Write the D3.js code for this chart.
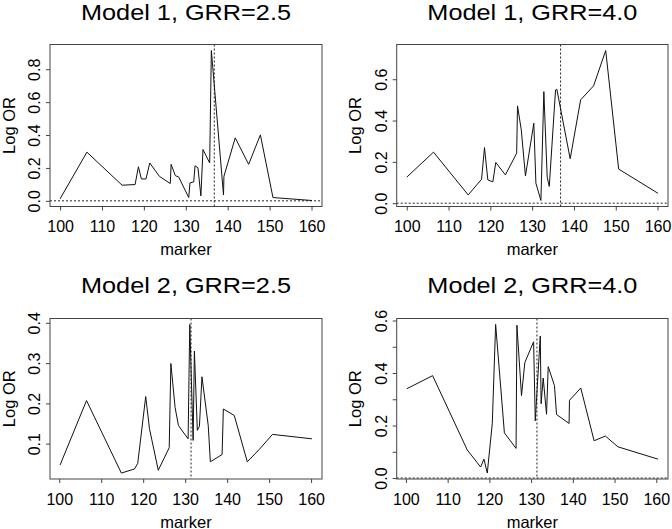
<!DOCTYPE html>
<html>
<head>
<meta charset="utf-8">
<script src="https://cdn.jsdelivr.net/npm/d3@7"></script>
<style>
  html, body { margin: 0; padding: 0; background: #fff; }
  svg { display: block; font-family: "Liberation Sans", Arial, Helvetica, sans-serif; }
</style>
</head>
<body>
<svg id="chart" width="672" height="529"></svg>
<script>
// ---------- data ----------
const titles = ["Model 1, GRR=2.5", "Model 1, GRR=4.0", "Model 2, GRR=2.5", "Model 2, GRR=4.0"];
const xLabel = "marker";
const yLabel = "Log OR";
const xTicks = [100, 110, 120, 130, 140, 150, 160];

const markers1 = [100.0, 106.4, 114.8, 117.9, 118.7, 119.4, 120.5, 121.4, 123.7, 126.3, 126.5, 127.5, 128.3,
  130.7, 131.0, 131.9, 132.2, 132.9, 133.6, 134.1, 135.7, 136.1, 139.0, 139.1, 141.8, 145.0, 147.8, 150.8, 160.1];
const logOR1 = [0.012, 0.296, 0.095, 0.099, 0.207, 0.133, 0.133, 0.230, 0.149, 0.105, 0.222, 0.153, 0.145,
  0.020, 0.109, 0.115, 0.213, 0.201, 0.030, 0.312, 0.230, 0.914, 0.036, 0.149, 0.383, 0.222, 0.401, 0.020, 0.002];

const markers2 = [100.0, 106.4, 114.7, 117.9, 118.6, 119.4, 120.6, 121.3, 123.6, 126.3, 126.5, 127.4, 128.4,
  130.4, 130.9, 132.1, 132.8, 133.6, 134.1, 135.6, 135.9, 139.1, 141.6, 144.7, 147.6, 150.7, 160.1];
const logOR2 = [0.126, 0.247, 0.040, 0.116, 0.269, 0.113, 0.103, 0.197, 0.137, 0.242, 0.471, 0.355, 0.132,
  0.387, 0.097, 0.013, 0.540, 0.126, 0.081, 0.548, 0.552, 0.215, 0.500, 0.568, 0.739, 0.165, 0.048];

const markers3 = [100.2, 106.5, 114.8, 117.9, 118.7, 120.6, 121.5, 123.6, 126.2, 126.6, 127.6, 128.4, 130.7,
  131.1, 131.9, 132.2, 132.9, 133.4, 134.0, 135.5, 136.0, 138.8, 139.1, 141.7, 144.8, 147.6, 150.8, 160.2];
const logOR3 = [0.047, 0.207, 0.027, 0.037, 0.051, 0.217, 0.137, 0.034, 0.090, 0.299, 0.190, 0.145, 0.112,
  0.396, 0.108, 0.330, 0.133, 0.143, 0.266, 0.145, 0.055, 0.073, 0.186, 0.170, 0.055, 0.085, 0.123, 0.112];

const markers4 = [100.2, 106.4, 114.7, 117.9, 118.7, 119.5, 120.7, 121.5, 123.6, 126.4, 126.6, 127.7, 128.5,
  130.6, 131.0, 132.2, 132.4, 132.9, 133.7, 134.1, 135.6, 136.1, 139.1, 139.2, 141.9, 145.1, 147.8, 150.8, 160.4];
const logOR4 = [0.340, 0.390, 0.107, 0.042, 0.072, 0.019, 0.208, 0.585, 0.172, 0.113, 0.582, 0.314, 0.440,
  0.519, 0.218, 0.541, 0.283, 0.381, 0.243, 0.424, 0.352, 0.242, 0.208, 0.296, 0.343, 0.142, 0.160, 0.119, 0.072];

const diseaseLocus = [136.8, 136.8, 131.4, 131.4];

const yTicks1 = [0, 0.2, 0.4, 0.6, 0.8];
const yTicks2 = [0, 0.2, 0.4, 0.6];
const yTicks3 = [0.1, 0.2, 0.3, 0.4];
const yTicks4 = [0, 0.1, 0.2, 0.3, 0.4, 0.5, 0.6];
const yTickLabels4 = ["0.0", "", "0.2", "", "0.4", "", "0.6"];

// ---------- layout ----------
const boxes = [
  { x0: 50, x1: 322, y0: 44.5, y1: 206.5, titleY: 20 },
  { x0: 396.7, x1: 668, y0: 44.5, y1: 206.5, titleY: 20 },
  { x0: 50, x1: 322, y0: 318.5, y1: 479, titleY: 293 },
  { x0: 396.7, x1: 668, y0: 318.5, y1: 479, titleY: 293 }
];

const panels = [
  { xs: markers1, ys: logOR1, yTicks: yTicks1, yLabels: null },
  { xs: markers2, ys: logOR2, yTicks: yTicks2, yLabels: null },
  { xs: markers3, ys: logOR3, yTicks: yTicks3, yLabels: null },
  { xs: markers4, ys: logOR4, yTicks: yTicks4, yLabels: yTickLabels4 }
];

const svg = d3.select("#chart");
const boxColor = "#444";

function padded(ext) {
  const r = ext[1] - ext[0];
  return [ext[0] - 0.04 * r, ext[1] + 0.04 * r];
}

panels.forEach((p, i) => {
  const b = boxes[i];
  const x = d3.scaleLinear().domain(padded(d3.extent(p.xs))).range([b.x0, b.x1]);
  const y = d3.scaleLinear().domain(padded(d3.extent(p.ys))).range([b.y1, b.y0]);
  const g = svg.append("g");

  // title
  g.append("text")
    .attr("x", (b.x0 + b.x1) / 2).attr("y", b.titleY)
    .attr("text-anchor", "middle")
    .attr("font-size", 22.5)
    .attr("textLength", 210).attr("lengthAdjust", "spacingAndGlyphs")
    .attr("fill", "#000")
    .text(titles[i]);

  // reference lines (dotted)
  const yd = y.domain();
  if (yd[0] <= 0 && yd[1] >= 0) {
    g.append("line")
      .attr("x1", b.x0).attr("x2", b.x1)
      .attr("y1", y(0)).attr("y2", y(0))
      .attr("stroke", "#222").attr("stroke-width", 1)
      .attr("stroke-dasharray", "2,2");
  }
  g.append("line")
    .attr("x1", x(diseaseLocus[i])).attr("x2", x(diseaseLocus[i]))
    .attr("y1", b.y0).attr("y2", b.y1)
    .attr("stroke", "#222").attr("stroke-width", 1)
    .attr("stroke-dasharray", "2,2");

  // data line
  const pts = p.xs.map((v, k) => [v, p.ys[k]]);
  g.append("path")
    .datum(pts)
    .attr("fill", "none")
    .attr("stroke", "#111")
    .attr("stroke-width", 1)
    .attr("stroke-linejoin", "miter")
    .attr("d", d3.line().x(d => x(d[0])).y(d => y(d[1])));

  // box
  g.append("rect")
    .attr("x", b.x0).attr("y", b.y0)
    .attr("width", b.x1 - b.x0).attr("height", b.y1 - b.y0)
    .attr("fill", "none").attr("stroke", boxColor).attr("stroke-width", 1);

  // x axis
  const xAxis = d3.axisBottom(x).tickValues(xTicks).tickSize(4).tickPadding(6).tickSizeOuter(0)
    .tickFormat(d3.format("d"));
  const xg = g.append("g").attr("transform", `translate(0,${b.y1})`).call(xAxis);
  xg.select(".domain").remove();
  xg.selectAll(".tick line").attr("stroke", boxColor);
  xg.selectAll(".tick text")
    .attr("font-size", 16).attr("font-family", "Liberation Sans, Arial, sans-serif")
    .attr("fill", "#000").attr("dy", null).attr("y", 25.5);

  // y axis
  const fmt = p.yLabels ? ((d, k) => p.yLabels[k]) : d3.format(".1f");
  const yAxis = d3.axisLeft(y).tickValues(p.yTicks).tickSize(4).tickSizeOuter(0).tickFormat(fmt);
  const ygr = g.append("g").attr("transform", `translate(${b.x0},0)`).call(yAxis);
  ygr.select(".domain").remove();
  ygr.selectAll(".tick line").attr("stroke", boxColor);
  ygr.selectAll(".tick text")
    .attr("font-size", 16).attr("font-family", "Liberation Sans, Arial, sans-serif")
    .attr("fill", "#000")
    .attr("x", null).attr("dy", null)
    .attr("text-anchor", "middle")
    .attr("transform", "translate(-10,0) rotate(-90)");

  // axis labels
  g.append("text")
    .attr("x", (b.x0 + b.x1) / 2).attr("y", b.y1 + 48.5)
    .attr("text-anchor", "middle").attr("font-size", 16.5).attr("fill", "#000")
    .text(xLabel);
  g.append("text")
    .attr("transform", `translate(${b.x0 - 35.5},${(b.y0 + b.y1) / 2}) rotate(-90)`)
    .attr("text-anchor", "middle").attr("font-size", 16.5).attr("fill", "#000")
    .text(yLabel);
});
</script>
</body>
</html>
